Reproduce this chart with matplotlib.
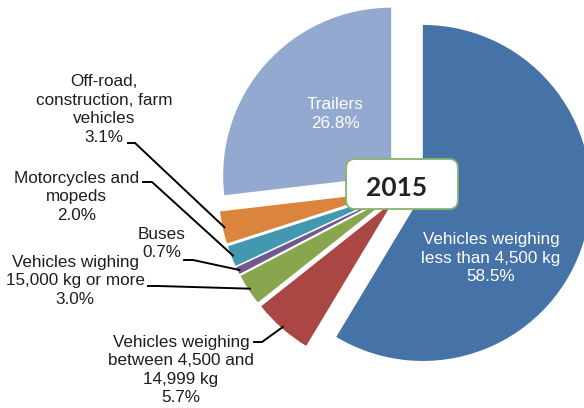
import numpy as np
import matplotlib
matplotlib.use("Agg")
from matplotlib import pyplot as plt
from matplotlib.patches import FancyBboxPatch

# vehicle registrations by type, share of total (%)
categories = [
    "Vehicles weighing\nless than 4,500 kg",
    "Vehicles weighing\nbetween 4,500 and\n14,999 kg",
    "Vehicles wighing\n15,000 kg or more",
    "Buses",
    "Motorcycles and\nmopeds",
    "Off-road,\nconstruction, farm\nvehicles",
    "Trailers",
]
shares = [58.5, 5.7, 3.0, 0.7, 2.0, 3.1, 26.8]
colors = ["#4572A7", "#AA4643", "#89A54E", "#71588F", "#4198AF", "#DB843D", "#93A9CF"]
year = "2015"

W, H = 584, 408
plt.rcParams['font.family'] = ['Liberation Sans', 'DejaVu Sans']

fig = plt.figure(figsize=(W / 100, H / 100), dpi=100)
ax = fig.add_axes([0, 0, 1, 1])

R = 168
wedges, _ = ax.pie(shares, colors=colors, startangle=90, counterclock=False,
                   radius=R, center=(405, 220), explode=[18.5] * len(shares),
                   wedgeprops=dict(linewidth=0), frame=True)
ax.set_xlim(0, W)
ax.set_ylim(0, H)
ax.set_aspect('equal')
ax.axis('off')

fs = 12.3
ls = 1.3
txt = '#1e1e1e'

def lbl(i):
    return f"{categories[i]}\n{shares[i]:.1f}%"

# labels inside the two big slices
ax.text(491, H - 258, lbl(0), color='white', fontsize=fs, ha='center', va='center',
        linespacing=ls)
ax.text(335, H - 114, lbl(6), color='white', fontsize=fs, ha='center', va='center',
        linespacing=ls)

# outside labels with leader lines: (text centre, line start, knee)
outside = {
    5: ((104, 109.5), (128, 143), (135, 143)),
    4: ((76.5, 197), (143, 182), (152, 182)),
    3: ((162, 243.5), (184, 260), (193, 260)),
    2: ((75, 281), (148, 286), (158, 286)),
    1: ((181, 370), (254, 342), (262, 342)),
}
for i, (tc, p0, p1) in outside.items():
    ax.text(tc[0], H - tc[1], lbl(i), color=txt, fontsize=fs, ha='center', va='center',
            linespacing=ls)
    w = wedges[i]
    mid = np.deg2rad((w.theta1 + w.theta2) / 2)
    ex = w.center[0] + 0.99 * R * np.cos(mid)
    ey = w.center[1] + 0.99 * R * np.sin(mid)
    ax.plot([p0[0], p1[0], ex], [H - p0[1], H - p1[1], ey], color='black', lw=1.4,
            solid_joinstyle='miter')

# year box in the middle
box = FancyBboxPatch((346, H - 209), 112, 50, boxstyle="round,pad=0,rounding_size=9",
                     facecolor='white', edgecolor='#86B46A', lw=1.3, zorder=5)
ax.add_patch(box)
ax.text(397, H - 188, year, fontsize=19, fontweight='bold', family='Lato',
        color='#222222', ha='center', va='center', zorder=6)

fig.savefig("out.png", dpi=100)
